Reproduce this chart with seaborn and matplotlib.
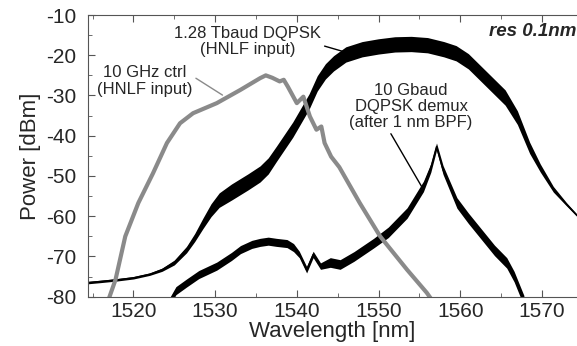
import pandas as pd
import numpy as np
import matplotlib
matplotlib.use('Agg')
import matplotlib.pyplot as plt
from matplotlib.ticker import MultipleLocator
import seaborn as sns

# 10 GHz control pulses (grey)
ctrl_wl = [1516.9, 1517.8, 1519.0, 1520.6, 1522.4, 1524.1, 1525.7, 1527.3, 1530.2,
           1533.1, 1535.5, 1536.2, 1537.0, 1537.9, 1538.4, 1538.9, 1540.0, 1540.8,
           1541.6, 1542.4, 1543.0, 1543.4, 1544.2, 1545.2, 1547.7, 1550.2, 1553.5,
           1555.9, 1556.6]
ctrl_dbm = [-81, -75.8, -65, -56.7, -49.3, -41.8, -36.9, -34.4, -31.9,
            -28.6, -25.7, -25.0, -25.6, -26.5, -26.1, -27.8, -31.9, -30.3,
            -35.2, -38.5, -37.7, -41.8, -45.2, -47.8, -56.7, -65, -73.3,
            -79, -81]

# 1.28 Tbaud DQPSK signal, centre line and half height of the ripple band
tbaud_wl = [1514.4, 1516, 1518, 1520, 1522, 1523.5, 1525, 1526.5, 1527.5, 1528.5,
            1529.5, 1530.5, 1532, 1534, 1535.5, 1536.5, 1537.5, 1538.5, 1539.5,
            1540.5, 1541.5, 1542.5, 1543.5, 1544.5, 1546, 1548, 1550, 1552, 1554,
            1556, 1558, 1559.5, 1561, 1562.5, 1564, 1565.5, 1567, 1568.5, 1569.8,
            1571.4, 1573, 1574.3]
tbaud_dbm = [-76.5, -76.2, -75.8, -75.3, -74.4, -73.3, -71.5, -68.3, -65.3, -61.8,
             -58.5, -56, -54, -51.5, -49.5, -47.5, -44.5, -41.5, -38.5,
             -35, -31.5, -27, -24, -22, -19.8, -18.5, -17.8, -17.3, -17.2,
             -17.5, -18.5, -19.5, -21.5, -24.5, -27.5, -30.5, -35.5, -43, -48,
             -53.3, -57, -59.8]
tbaud_ripple = [0.3, 0.3, 0.3, 0.3, 0.3, 0.4, 0.6, 0.8, 1.0, 1.3,
                1.6, 1.8, 2.0, 2.0, 2.0, 2.0] + [1.9] * 20 + [1.7, 1.4, 1.0, 0.7, 0.4, 0.3]

# 10 Gbaud demultiplexed channel after 1 nm BPF
demux_wl = [1524.5, 1525.2, 1526.5, 1528, 1530.2, 1532, 1533.1, 1534.5, 1535.5,
            1536.5, 1537.5, 1538.8, 1539.6, 1540.3, 1541.2, 1542.0, 1542.9, 1544.1,
            1545.3, 1547, 1549.4, 1551.2, 1553.5, 1555.5, 1556.4, 1557.1, 1557.9,
            1559.6, 1561, 1562.8, 1564.2, 1565.7, 1566.6, 1567.3, 1567.8]
demux_dbm = [-81, -78.5, -76.6, -74.5, -72.4, -70, -68.3, -67, -66.5,
             -66.2, -66.5, -66.8, -67.8, -69.5, -73.3, -69.5, -72.4, -71.5,
             -72, -70, -66.7, -64, -59.2, -52.6, -48, -42.7, -48.5,
             -56.7, -60.5, -65, -68.5, -71.6, -75, -78.5, -81]
demux_ripple = [1.0] * 13 + [0.8] * 4 + [1.2] * 4 + [1.3] * 3 + [1.1, 0.9, 1.1] + [1.3] * 8

sns.set_style('ticks')
plt.rcParams['font.family'] = ['Liberation Sans', 'DejaVu Sans']
plt.rcParams['axes.unicode_minus'] = False

fig = plt.figure(figsize=(5.77, 3.46), dpi=100)
ax = fig.add_axes([0.152, 0.1425, 0.848, 0.8141])

tb = pd.DataFrame({'wl': tbaud_wl, 'dbm': tbaud_dbm, 'r': tbaud_ripple})
dm = pd.DataFrame({'wl': demux_wl, 'dbm': demux_dbm, 'r': demux_ripple})
ct = pd.DataFrame({'wl': ctrl_wl, 'dbm': ctrl_dbm})

ax.fill_between(tb['wl'], tb['dbm'] - tb['r'], tb['dbm'] + tb['r'], color='black', lw=0)
sns.lineplot(data=tb, x='wl', y='dbm', ax=ax, color='black', lw=1.0, estimator=None)
ax.fill_between(dm['wl'], dm['dbm'] - dm['r'], dm['dbm'] + dm['r'], color='black', lw=0)
sns.lineplot(data=dm, x='wl', y='dbm', ax=ax, color='black', lw=1.0, estimator=None)
sns.lineplot(data=ct, x='wl', y='dbm', ax=ax, color='#8a8a8a', lw=3.0, estimator=None)

ax.set_xlim(1514.4, 1574.3)
ax.set_ylim(-80, -10)
ax.xaxis.set_major_locator(MultipleLocator(10))
ax.xaxis.set_minor_locator(MultipleLocator(5))
ax.yaxis.set_major_locator(MultipleLocator(10))
ax.yaxis.set_minor_locator(MultipleLocator(5))
ax.tick_params(which='both', direction='in', top=True, right=False,
               color='#555555', labelsize=15, pad=4)
ax.tick_params(axis='y', pad=8)
ax.tick_params(which='major', length=5)
ax.tick_params(which='minor', length=3)
for side in ['left', 'bottom', 'top']:
    ax.spines[side].set_color('#555555')
ax.spines['right'].set_visible(False)

ax.set_xlabel('Wavelength [nm]', fontsize=16, labelpad=0)
ax.set_ylabel('Power [dBm]', fontsize=16, labelpad=4)

ax.annotate('1.28 Tbaud DQPSK\n(HNLF input)', xy=(1545.9, -19.2), xytext=(1534.0, -16.5),
            ha='center', va='center', fontsize=12, linespacing=1.1,
            arrowprops=dict(arrowstyle='-', color='black', lw=1, shrinkA=0, shrinkB=0,
                            relpos=(0.87, 0.55)))
ax.annotate('10 GHz ctrl\n(HNLF input)', xy=(1530.9, -29.9), xytext=(1521.4, -26.4),
            ha='center', va='center', fontsize=12, linespacing=1.1,
            arrowprops=dict(arrowstyle='-', color='#8a8a8a', lw=1, shrinkA=0, shrinkB=0,
                            relpos=(0.9, 0.85)))
ax.annotate('10 Gbaud\nDQPSK demux\n(after 1 nm BPF)', xy=(1555.3, -52.7), xytext=(1554.0, -32.8),
            ha='center', va='center', fontsize=12, linespacing=1.1,
            arrowprops=dict(arrowstyle='-', color='black', lw=1, shrinkA=0, shrinkB=0,
                            relpos=(0.32, 0.0)))
ax.text(0.998, -14.1, 'res 0.1nm', transform=ax.get_yaxis_transform(), ha='right', va='center',
        fontsize=13.5, fontweight='bold', fontstyle='italic')

fig.savefig('out.png', dpi=100)
